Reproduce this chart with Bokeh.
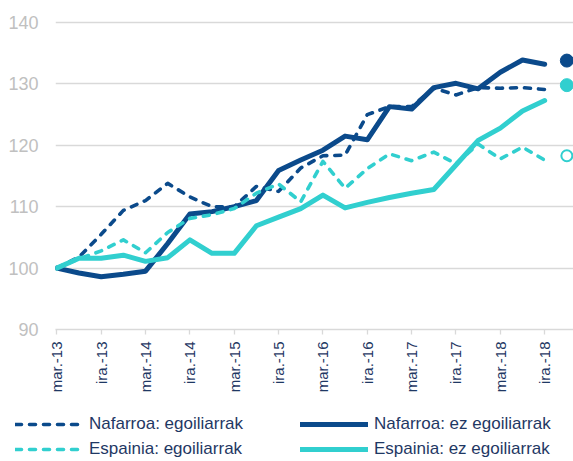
import math
from bokeh.plotting import figure
from bokeh.layouts import column
from bokeh.models import Range1d, LinearAxis, FixedTicker, Legend, LegendItem
from bokeh.embed import file_html
from bokeh.resources import INLINE

# ---- data -------------------------------------------------------------
quarters = ["mar.-13", "eka.-13", "ira.-13", "abe.-13",
            "mar.-14", "eka.-14", "ira.-14", "abe.-14",
            "mar.-15", "eka.-15", "ira.-15", "abe.-15",
            "mar.-16", "eka.-16", "ira.-16", "abe.-16",
            "mar.-17", "eka.-17", "ira.-17", "abe.-17",
            "mar.-18", "eka.-18", "ira.-18", "abe.-18"]
tick_labels = ["mar.-13", "ira.-13", "mar.-14", "ira.-14", "mar.-15", "ira.-15",
               "mar.-16", "ira.-16", "mar.-17", "ira.-17", "mar.-18", "ira.-18"]
y_ticks = [90, 100, 110, 120, 130, 140]

nafarroa_egoiliarrak = [100, 101.8, 105.5, 109.4, 111.0, 113.8, 111.6, 110.0, 110.0,
                        113.3, 112.5, 116.3, 118.3, 118.4, 125.0, 126.3, 126.3,
                        129.3, 128.2, 129.4, 129.3, 129.4, 129.1]
nafarroa_ez_egoiliarrak = [100, 99.2, 98.6, 99.0, 99.5, 104.0, 108.8, 109.2, 110.0,
                           111.0, 115.9, 117.6, 119.2, 121.5, 120.9, 126.3, 125.9,
                           129.4, 130.1, 129.2, 131.9, 133.9, 133.2]
espainia_egoiliarrak = [100, 101.5, 102.8, 104.6, 102.5, 105.8, 108.1, 108.7, 109.7,
                        112.2, 113.7, 110.8, 117.4, 113.0, 116.2, 118.6, 117.5,
                        118.9, 117.0, 120.2, 117.8, 119.7, 117.6]
espainia_ez_egoiliarrak = [100, 101.6, 101.6, 102.1, 101.1, 101.7, 104.6, 102.4, 102.4,
                           106.9, 108.3, 109.7, 111.9, 109.8, 110.7, 111.5, 112.2,
                           112.8, 116.8, 120.8, 122.8, 125.6, 127.3]
# end markers (abe.-18)
marker_nafarroa_ez = [133.8]
marker_espainia_ez = [129.8]
marker_espainia_egoil = [118.3]

series_names = ["Nafarroa: egoiliarrak", "Nafarroa: ez egoiliarrak",
                "Espainia: egoiliarrak", "Espainia: ez egoiliarrak"]

NAVY = "#0b4a8b"
CYAN = "#31cfcf"
TEXT = "#1f3864"
FONT = "Liberation Sans"

x = list(range(len(nafarroa_egoiliarrak)))
x_end = [quarters.index("abe.-18")]
tick_pos = [quarters.index(t) for t in tick_labels]
series = [nafarroa_egoiliarrak, nafarroa_ez_egoiliarrak,
          espainia_egoiliarrak, espainia_ez_egoiliarrak]

styles = [dict(line_color=NAVY, line_width=3.6, line_dash="6 8"),
          dict(line_color=NAVY, line_width=5),
          dict(line_color=CYAN, line_width=3.6, line_dash="6 8"),
          dict(line_color=CYAN, line_width=5)]

# ---- main chart -------------------------------------------------------
p = figure(width=573, height=400, output_backend="svg", toolbar_location=None,
           x_range=Range1d(-0.06, 23.3), y_range=Range1d(90, 140.33),
           x_axis_type=None,
           min_border_left=55, min_border_right=0, min_border_top=20,
           min_border_bottom=71)
p.outline_line_color = None
p.frame_align = False

p.yaxis.ticker = FixedTicker(ticks=y_ticks)
p.yaxis.axis_line_color = None
p.yaxis.major_tick_line_color = None
p.yaxis.major_tick_out = 0
p.yaxis.major_tick_in = 0
p.yaxis.minor_tick_line_color = None
p.yaxis.major_label_text_font = FONT
p.yaxis.major_label_text_font_size = "18px"
p.yaxis.major_label_text_color = "#c0c0c0"
p.yaxis.major_label_standoff = 17
p.ygrid.ticker = FixedTicker(ticks=y_ticks)
p.ygrid.grid_line_color = "#d9d9d9"
p.ygrid.grid_line_width = 1.3

xax = LinearAxis(ticker=FixedTicker(ticks=tick_pos),
                 major_label_overrides={tp: lab for tp, lab in zip(tick_pos, tick_labels)})
xax.axis_line_color = "#d9d9d9"
xax.axis_line_width = 1.3
xax.major_tick_line_color = "#d9d9d9"
xax.major_tick_line_width = 1.3
xax.major_tick_out = 5
xax.major_tick_in = 0
xax.minor_tick_line_color = None
xax.major_label_orientation = math.pi / 2
xax.major_label_text_font = FONT
xax.major_label_text_font_size = "15px"
xax.major_label_text_color = TEXT
xax.major_label_standoff = 7
p.add_layout(xax, "below")

for ys, st in zip(series, styles):
    p.line(x, ys, line_cap="round", line_join="round", **st)

p.scatter(x_end, marker_nafarroa_ez, size=13, fill_color=NAVY, line_color=NAVY)
p.scatter(x_end, marker_espainia_ez, size=13, fill_color=CYAN, line_color=CYAN)
p.scatter(x_end, marker_espainia_egoil, size=11, fill_color="white",
          line_color=CYAN, line_width=2)

# ---- legend strip (series drawn out of view, only the legend shows) ----
lg = figure(width=573, height=61, output_backend="svg", toolbar_location=None,
            x_range=Range1d(1000, 1001), y_range=Range1d(1000, 1001),
            x_axis_type=None, y_axis_type=None,
            min_border_left=0, min_border_right=0, min_border_top=0, min_border_bottom=0)
lg.outline_line_color = None
lg.frame_align = False
lg.xgrid.visible = False
lg.ygrid.visible = False
items = []
for name, ys, st in zip(series_names, series, styles):
    r = lg.line(x, ys, line_cap="round", line_join="round", **st)
    items.append(LegendItem(label=name, renderers=[r]))


def make_legend(its, loc):
    lgd = Legend(items=its, orientation="vertical", location=loc)
    lgd.border_line_color = None
    lgd.background_fill_alpha = 0
    lgd.label_text_font = FONT
    lgd.label_text_font_size = "17px"
    lgd.label_text_color = TEXT
    lgd.glyph_width = 68
    lgd.glyph_height = 16
    lgd.label_standoff = 6
    lgd.label_height = 20
    lgd.spacing = 5
    lgd.padding = 0
    lgd.margin = 0
    return lgd


lg.add_layout(make_legend([items[0], items[2]], (15, 2)), "center")
lg.add_layout(make_legend([items[1], items[3]], (300, 2)), "center")

open("out.html", "w").write(file_html(column(p, lg), INLINE))
